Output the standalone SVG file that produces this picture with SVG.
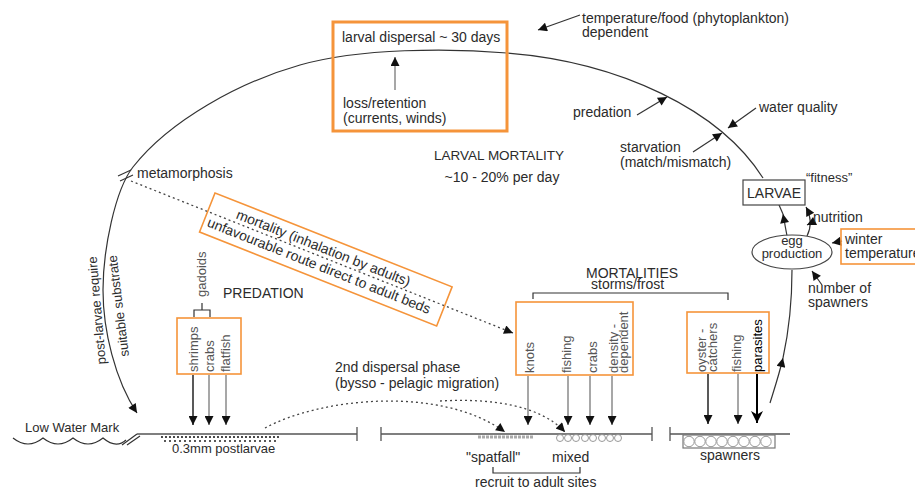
<svg xmlns="http://www.w3.org/2000/svg" width="915" height="491" viewBox="0 0 915 491">
<defs>
<style>
text{font-family:"Liberation Sans",Arial,sans-serif;fill:#2b2b2b;font-size:14px}
.s13{font-size:13px}
.v{font-size:13px;fill:#555}
.ob{fill:none;stroke:#F5943A;stroke-width:1.6}
.ln{fill:none;stroke:#333;stroke-width:1.2}
.gl{fill:none;stroke:#8a8a8a;stroke-width:1.5}
.dk{fill:none;stroke:#222;stroke-width:1.5}
.dot{fill:none;stroke:#444;stroke-width:1.3;stroke-dasharray:2 3}
.arr{marker-end:url(#ah)}
</style>
<marker id="ah" viewBox="0 0 10 10" refX="10" refY="5" markerUnits="userSpaceOnUse" markerWidth="11" markerHeight="9" orient="auto">
<path d="M0,0 L10,5 L0,10 z" fill="#111"/>
</marker>
<marker id="ch" viewBox="0 0 10 10" refX="10" refY="5" markerUnits="userSpaceOnUse" markerWidth="14" markerHeight="12" orient="auto">
<path d="M0,0 L10,5 L0,10 L3,5 z" fill="#000"/>
</marker>
</defs>

<g id="connectors">
<path class="ln arr" d="M763,178 C720,110 620,62 507,53 C450,48 360,48 300,65 C240,82 170,120 133,167 C115,190 103,250 103,290 C103,330 115,380 137,413"/>
<path class="ln" d="M118,176 L131,170 M120,181 L133,175"/>
<path class="dot arr" d="M131,181 L513,333"/>
<path class="gl arr" d="M395,90 L395,57"/>
<path class="ln arr" d="M580,15 L538,30"/>
<path class="ln arr" d="M637,115 L667,97"/>
<path class="ln arr" d="M756,108 L728,128"/>
<path class="ln arr" d="M693,152 L722,133"/>
<path class="ln arr" d="M787,236 L783,214"/>
<path class="ln" d="M783,214 L779,205"/>
<path class="ln arr" d="M807,236 Q814,222 806,207"/>
<path class="ln arr" d="M813,222 L807,225"/>
<path class="ln arr" d="M842,241 L832,243"/>
<path class="ln arr" d="M822,285 L812,271"/>
<path class="ln arr" d="M770,403 C774,390 779,375 783,358"/>
<path class="ln" d="M783,358 C788,335 792,300 792,270"/>
<path class="dk arr" d="M193,375 L193,425"/>
<path class="gl arr" d="M209,375 L209,425"/>
<path class="gl arr" d="M226,375 L226,425"/>
<path class="gl arr" d="M528,376 L528,425"/>
<path class="gl arr" d="M568,376 L568,425"/>
<path class="gl arr" d="M590,376 L590,425"/>
<path class="gl arr" d="M612,376 L612,425"/>
<path class="dk arr" d="M708,374 L708,424"/>
<path class="gl arr" d="M738,374 L738,424"/>
<path d="M757,374 L757,423" fill="none" stroke="#000" stroke-width="2" marker-end="url(#ch)"/>
<path class="dot arr" d="M265,428 C320,398 440,385 505,432"/>
<path class="dot arr" d="M440,401 C490,398 540,405 565,432"/>
</g>

<g id="larval-dispersal">
<rect x="333" y="22" width="174" height="109" fill="none" stroke="#F5943A" stroke-width="3"/>
<text x="342" y="42">larval dispersal ~ 30 days</text>
<text x="343" y="108">loss/retention</text>
<text x="343" y="123">(currents, winds)</text>
</g>
<g id="temperature-food"><text x="582" y="23">temperature/food (phytoplankton)</text><text x="582" y="37">dependent</text></g>
<g id="predation-larval"><text x="573" y="117">predation</text></g>
<g id="water-quality"><text x="759" y="112">water quality</text></g>
<g id="starvation"><text x="620" y="152">starvation</text><text x="620" y="167">(match/mismatch)</text></g>
<g id="larval-mortality">
<text x="499" y="160" text-anchor="middle" style="font-size:13.5px">LARVAL MORTALITY</text>
<text x="502" y="182" text-anchor="middle">~10 - 20% per day</text>
</g>
<g id="metamorphosis"><text x="137" y="178">metamorphosis</text></g>
<g id="larvae">
<rect x="743" y="180" width="62" height="25" fill="#fff" stroke="#444" stroke-width="1.2"/>
<text x="774" y="198" text-anchor="middle">LARVAE</text>
<text class="s13" x="806" y="182">“fitness”</text>
</g>
<g id="egg-production">
<ellipse cx="792" cy="252" rx="40" ry="17" fill="#fff" stroke="#444" stroke-width="1.2"/>
<text class="s13" x="792" y="245" text-anchor="middle">egg</text>
<text class="s13" x="792" y="258" text-anchor="middle">production</text>
</g>
<g id="nutrition"><text x="813" y="222">nutrition</text></g>
<g id="winter-temperature">
<rect class="ob" x="841" y="229" width="80" height="35"/>
<text x="845" y="244">winter</text><text x="845" y="258">temperature</text>
</g>
<g id="number-of-spawners"><text x="808" y="293">number of</text><text x="808" y="307">spawners</text></g>

<g id="inhalation" transform="translate(215,193) rotate(21.6)">
<rect class="ob" x="0" y="0" width="255" height="42"/>
<text x="28" y="16">mortality (inhalation by adults)</text>
<text x="4" y="34">unfavourable route direct to adult beds</text>
</g>

<g id="post-larvae-require">
<text class="s13" transform="translate(106,364) rotate(-95)">post-larvae require</text>
<text class="s13" transform="translate(129,356) rotate(-97)">suitable substrate</text>
</g>

<g id="predation-postlarvae">
<text x="223" y="298">PREDATION</text>
<text class="v" transform="translate(206,297) rotate(-90)">gadoids</text>
<path class="ln" d="M194,317 V310 H210 V317 M202,310 V303"/>
<rect class="ob" x="177" y="318" width="64" height="56"/>
<text class="v" transform="translate(198,372) rotate(-90)">shrimps</text>
<text class="v" transform="translate(214,372) rotate(-90)">crabs</text>
<text class="v" transform="translate(230,372) rotate(-90)">flatfish</text>
</g>

<g id="mortalities">
<text x="586" y="278">MORTALITIES</text>
<text x="591" y="289">storms/frost</text>
<path class="ln" d="M533,299 V293 H728 V300"/>
</g>
<g id="mortalities-spat">
<rect class="ob" x="516" y="302" width="117" height="73"/>
<text class="v" transform="translate(534,373) rotate(-90)">knots</text>
<text class="v" transform="translate(571,373) rotate(-90)">fishing</text>
<text class="v" transform="translate(597,373) rotate(-90)">crabs</text>
<text class="v" transform="translate(618,373) rotate(-90)">density -</text>
<text class="v" transform="translate(628,373) rotate(-90)">dependent</text>
</g>
<g id="mortalities-adults">
<rect class="ob" x="687" y="312" width="82" height="61"/>
<text class="v" transform="translate(706,372) rotate(-90)">oyster -</text>
<text class="v" transform="translate(717,372) rotate(-90)">catchers</text>
<text class="v" transform="translate(741,372) rotate(-90)">fishing</text>
<text class="v" transform="translate(762,372) rotate(-90)" style="fill:#000">parasites</text>
</g>

<g id="low-water-mark">
<text class="s13" x="25" y="432">Low Water Mark</text>
<path class="ln" d="M13,438 Q28,450 43,438 Q58,450 73,438 Q88,450 103,438 Q116,449 126,440"/>
<path class="ln" d="M122,445 L137,434 M127,445 L140,436"/>
</g>
<g id="ground">
<path fill="none" stroke="#555" stroke-width="1.3" d="M137,434 H357 M357,427 V441 M381,427 V441 M381,434 H652 M652,427 V441 M670,427 V441 M670,434 H790"/>
</g>
<g id="postlarvae">
<path fill="none" stroke="#222" stroke-width="2.2" stroke-linecap="round" stroke-dasharray="0 4" d="M162,437 H282"/>
<path fill="none" stroke="#222" stroke-width="2" stroke-linecap="round" stroke-dasharray="0 5" d="M165,441 H280"/>
<text class="s13" x="172" y="453">0.3mm postlarvae</text>
</g>
<g id="dispersal-2">
<text x="335" y="372">2nd dispersal phase</text>
<text x="335" y="388">(bysso - pelagic migration)</text>
</g>
<g id="spatfall">
<path fill="none" stroke="#aaa" stroke-width="3" stroke-dasharray="3 1" d="M478,437 H534"/>
<text x="466" y="462">"spatfall"</text>
</g>
<g id="mixed">
<g fill="none" stroke="#999" stroke-width="1">
<circle cx="560" cy="438" r="3.5"/><circle cx="568" cy="438" r="3.5"/><circle cx="576" cy="438" r="3.5"/><circle cx="585" cy="438" r="3.5"/><circle cx="593" cy="438" r="3.5"/><circle cx="602" cy="438" r="3.5"/><circle cx="610" cy="438" r="3.5"/><circle cx="618" cy="438" r="3.5"/>
</g>
<text x="552" y="462">mixed</text>
</g>
<g id="recruit">
<path class="ln" d="M493,467 V473 H580 V467"/>
<text x="475" y="487">recruit to adult sites</text>
</g>
<g id="spawners">
<rect x="683" y="435" width="92" height="13" fill="none" stroke="#777" stroke-width="1.2"/>
<g fill="none" stroke="#999" stroke-width="1">
<circle cx="689" cy="441.5" r="5.2"/><circle cx="700" cy="441.5" r="5.2"/><circle cx="711" cy="441.5" r="5.2"/><circle cx="722" cy="441.5" r="5.2"/><circle cx="733" cy="441.5" r="5.2"/><circle cx="744" cy="441.5" r="5.2"/><circle cx="755" cy="441.5" r="5.2"/><circle cx="766" cy="441.5" r="5.2"/>
</g>
<text x="700" y="460">spawners</text>
</g>
</svg>
